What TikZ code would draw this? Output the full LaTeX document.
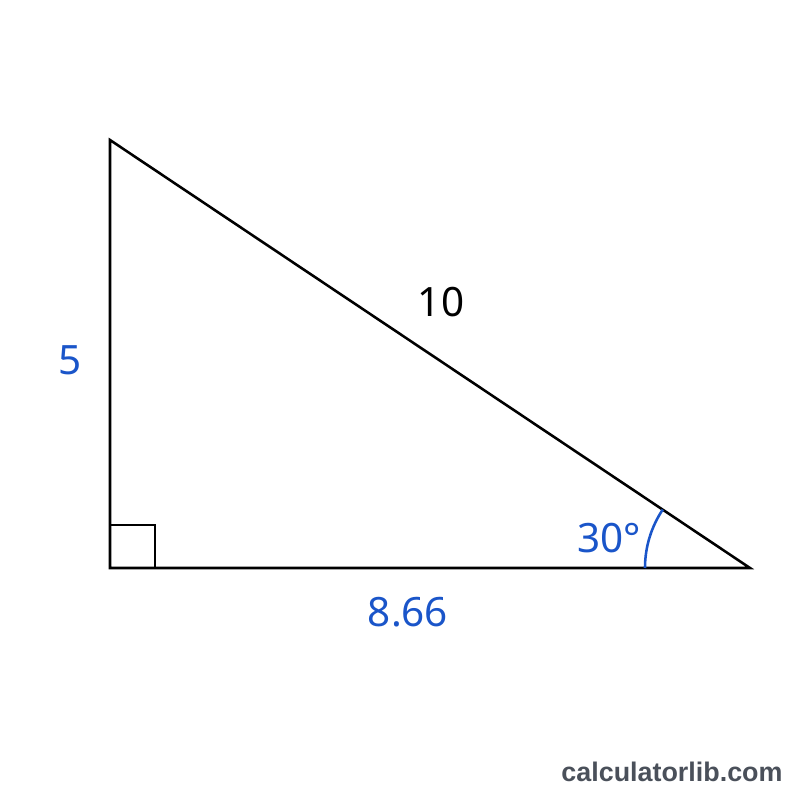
\documentclass[tikz,border=0pt]{standalone}
\usepackage{fontspec}
\setmainfont{Noto Sans}
\newfontfamily\markfont{Liberation Sans}
\definecolor{sideblue}{HTML}{1A55C9}
\definecolor{markgray}{HTML}{4A505A}
\begin{document}
\begin{tikzpicture}[scale=0.2]
\tikzset{every node/.append style={inner sep=0pt},
  side/.style={black,line width=1.45pt,line join=miter},
  sidelabel/.style={text=sideblue,font=\fontsize{23}{28}\selectfont},
  anglearc/.style={sideblue,line width=1.45pt}}
\useasboundingbox (0,0) rectangle (80,-80);
\coordinate (top) at (11,-14);
\coordinate (corner) at (11,-56.8);
\coordinate (tip) at (75,-56.8);
\draw [side] (top) -- (corner) -- (tip) -- cycle;
\draw [side] (11,-52.5) -- (15.5,-52.5) -- (15.5,-56.8);
\draw [anglearc] (tip) ++(180:10.5) arc (180:146.2:10.5);
\node [sidelabel] (legA) at (7,-36) {5};
\node [sidelabel] (legB) at (40.8,-61.2) {8.66};
\node [font=\fontsize{23}{28}\selectfont] (hyp) at (44.1,-30.2) {10};
\node [sidelabel] (ang) at (60.9,-53.8) {30°};
\node [text=markgray,font=\markfont\bfseries\fontsize{15.3}{18}\selectfont] (mark) at (67.2,-77.2) {calculatorlib.com};
\end{tikzpicture}
\end{document}
